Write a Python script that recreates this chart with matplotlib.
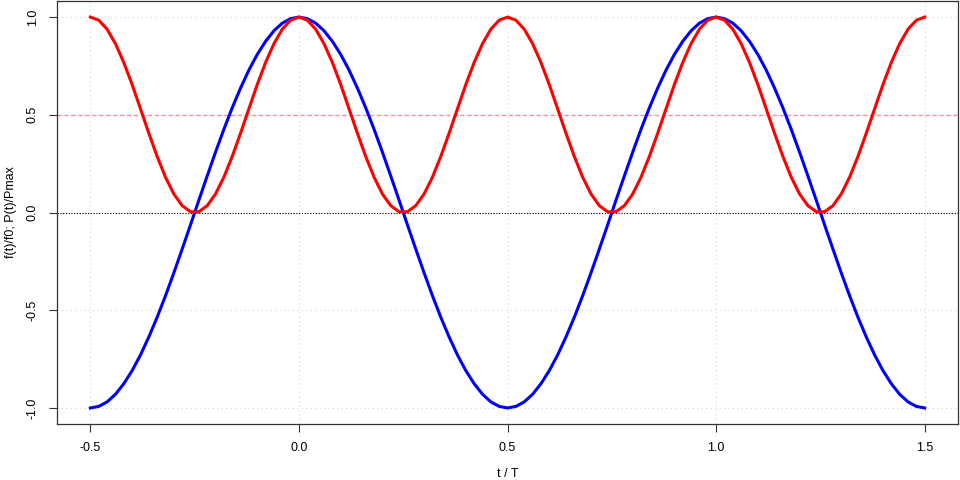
import matplotlib
matplotlib.use("Agg")
import matplotlib.pyplot as plt

plt.rcParams['font.family'] = ['Liberation Sans', 'DejaVu Sans']

# sample times t/T
t = [-0.50, -0.48, -0.46, -0.44, -0.42, -0.40, -0.38, -0.36, -0.34, -0.32,
     -0.30, -0.28, -0.26, -0.24, -0.22, -0.20, -0.18, -0.16, -0.14, -0.12,
     -0.10, -0.08, -0.06, -0.04, -0.02, 0.00, 0.02, 0.04, 0.06, 0.08,
     0.10, 0.12, 0.14, 0.16, 0.18, 0.20, 0.22, 0.24, 0.26, 0.28,
     0.30, 0.32, 0.34, 0.36, 0.38, 0.40, 0.42, 0.44, 0.46, 0.48,
     0.50, 0.52, 0.54, 0.56, 0.58, 0.60, 0.62, 0.64, 0.66, 0.68,
     0.70, 0.72, 0.74, 0.76, 0.78, 0.80, 0.82, 0.84, 0.86, 0.88,
     0.90, 0.92, 0.94, 0.96, 0.98, 1.00, 1.02, 1.04, 1.06, 1.08,
     1.10, 1.12, 1.14, 1.16, 1.18, 1.20, 1.22, 1.24, 1.26, 1.28,
     1.30, 1.32, 1.34, 1.36, 1.38, 1.40, 1.42, 1.44, 1.46, 1.48, 1.50]

# f(t)/f0 (blue)
f = [-1.000, -0.992, -0.969, -0.930, -0.876, -0.809, -0.729, -0.637, -0.536, -0.426,
     -0.309, -0.187, -0.063, 0.063, 0.187, 0.309, 0.426, 0.536, 0.637, 0.729,
     0.809, 0.876, 0.930, 0.969, 0.992, 1.000,
     0.992, 0.969, 0.930, 0.876, 0.809, 0.729, 0.637, 0.536, 0.426, 0.309,
     0.187, 0.063, -0.063, -0.187, -0.309, -0.426, -0.536, -0.637, -0.729, -0.809,
     -0.876, -0.930, -0.969, -0.992, -1.000,
     -0.992, -0.969, -0.930, -0.876, -0.809, -0.729, -0.637, -0.536, -0.426, -0.309,
     -0.187, -0.063, 0.063, 0.187, 0.309, 0.426, 0.536, 0.637, 0.729, 0.809,
     0.876, 0.930, 0.969, 0.992, 1.000,
     0.992, 0.969, 0.930, 0.876, 0.809, 0.729, 0.637, 0.536, 0.426, 0.309,
     0.187, 0.063, -0.063, -0.187, -0.309, -0.426, -0.536, -0.637, -0.729, -0.809,
     -0.876, -0.930, -0.969, -0.992, -1.000]

# P(t)/Pmax (red)
p = [1.000, 0.984, 0.938, 0.864, 0.768, 0.655, 0.531, 0.406, 0.287, 0.181,
     0.095, 0.035, 0.004, 0.004, 0.035, 0.095, 0.181, 0.287, 0.406, 0.531,
     0.655, 0.768, 0.864, 0.938, 0.984,
     1.000, 0.984, 0.938, 0.864, 0.768, 0.655, 0.531, 0.406, 0.287, 0.181,
     0.095, 0.035, 0.004, 0.004, 0.035, 0.095, 0.181, 0.287, 0.406, 0.531,
     0.655, 0.768, 0.864, 0.938, 0.984,
     1.000, 0.984, 0.938, 0.864, 0.768, 0.655, 0.531, 0.406, 0.287, 0.181,
     0.095, 0.035, 0.004, 0.004, 0.035, 0.095, 0.181, 0.287, 0.406, 0.531,
     0.655, 0.768, 0.864, 0.938, 0.984,
     1.000, 0.984, 0.938, 0.864, 0.768, 0.655, 0.531, 0.406, 0.287, 0.181,
     0.095, 0.035, 0.004, 0.004, 0.035, 0.095, 0.181, 0.287, 0.406, 0.531,
     0.655, 0.768, 0.864, 0.938, 0.984, 1.000]

xticks = [-0.5, 0.0, 0.5, 1.0, 1.5]
yticks = [-1.0, -0.5, 0.0, 0.5, 1.0]

fig = plt.figure(figsize=(9.6, 4.8), dpi=100)
ax = fig.add_axes([0.0594, 0.1175, 0.9386, 0.8795])

for xv in xticks:
    ax.axvline(xv, color="#d3d3d3", lw=0.8, ls=(0, (1, 3)), zorder=0)
for yv in yticks:
    ax.axhline(yv, color="#d3d3d3", lw=0.8, ls=(0, (1, 3)), zorder=0)

ax.axhline(0.0, color="black", lw=0.8, ls=(0, (1, 1.5)), zorder=1)
ax.axhline(0.5, color="#ff8da1", lw=1.0, ls=(0, (3, 2)), zorder=1)

ax.plot(t, f, color="#0000ff", lw=2.2, zorder=3)
ax.plot(t, p, color="#ff0000", lw=2.2, zorder=3)

ax.set_xlim(-0.58, 1.58)
ax.set_ylim(-1.08, 1.08)
ax.set_xticks(xticks)
ax.set_xticklabels(["-0.5", "0.0", "0.5", "1.0", "1.5"])
ax.set_yticks(yticks)
ax.set_yticklabels(["-1.0", "-0.5", "0.0", "0.5", "1.0"], rotation=90, va="center")
ax.tick_params(direction="out", length=6, width=0.8, labelsize=9, pad=7,
               colors="#333333", labelcolor="black")

for s in ax.spines.values():
    s.set_color("#333333")
    s.set_linewidth(0.9)

ax.set_xlabel("t / T", fontsize=9, labelpad=10)
ax.set_ylabel("f(t)/f0; P(t)/Pmax", fontsize=9, labelpad=7)

fig.savefig("out.png", dpi=100)
